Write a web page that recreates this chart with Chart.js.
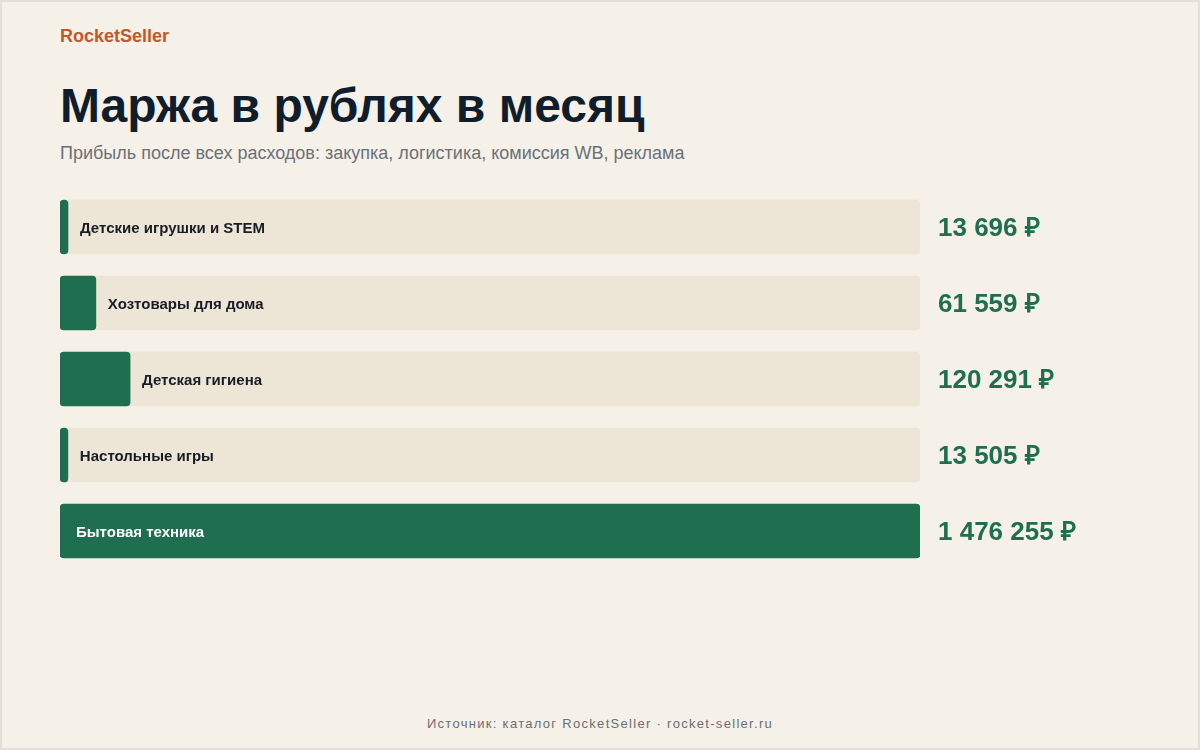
<!DOCTYPE html>
<html lang="ru">
<head>
<meta charset="utf-8">
<script src="https://cdn.jsdelivr.net/npm/chart.js@4/dist/chart.umd.min.js"></script>
<style>
  html, body { margin: 0; padding: 0; background: #f5f0e8; }
  #page {
    position: relative; width: 1200px; height: 750px; box-sizing: border-box;
    border: 2px solid #e4dfd7; background: #f5f0e8; overflow: hidden;
    font-family: "Liberation Sans", Arial, sans-serif;
  }
  .abs { position: absolute; left: 58px; line-height: 1; white-space: nowrap; }
  #brand { top: 25px; font-size: 18px; font-weight: bold; color: #c2582c; }
  #title { top: 80px; font-size: 48px; font-weight: bold; color: #0f1d2c; }
  #subtitle { top: 142px; font-size: 18px; color: #6b7078; }
  #footer { top: 715px; left: 0; width: 1196px; text-align: center; font-size: 13px; letter-spacing: 1.3px; color: #6e6e70; }
  #wrap { position: absolute; left: -2px; top: 187px; width: 1200px; height: 380px; }
</style>
</head>
<body>
<div id="page">
  <div id="brand" class="abs">RocketSeller</div>
  <div id="title" class="abs">Маржа в рублях в месяц</div>
  <div id="subtitle" class="abs">Прибыль после всех расходов: закупка, логистика, комиссия WB, реклама</div>
  <div id="wrap"><canvas id="chart"></canvas></div>
  <div id="footer" class="abs">Источник: каталог RocketSeller · rocket-seller.ru</div>
</div>
<script>
// -- data ------------------------------------------------------------------->
const categories = [
  'Детские игрушки и STEM',
  'Хозтовары для дома',
  'Детская гигиена',
  'Настольные игры',
  'Бытовая техника'
]
const margins = [13696, 61559, 120291, 13505, 1476255]
const maxMargin = Math.max(...margins)
const track = categories.map(() => maxMargin)

const green = '#1f6e4f'

function fmt(v) {
  return String(v).replace(/\B(?=(\d{3})+(?!\d))/g, ' ') + ' ₽'
}

// -- labels plugin ---------------------------------------------------------->
const labelPlugin = {
  id: 'rowLabels',
  afterDatasetsDraw(chart) {
    const { ctx, scales, chartArea } = chart
    const meta = chart.getDatasetMeta(1)
    ctx.save()
    ctx.textBaseline = 'middle'
    meta.data.forEach((bar, i) => {
      const y = bar.y
      const end = scales.x.getPixelForValue(margins[i])
      const start = scales.x.getPixelForValue(0)
      ctx.font = 'bold 15px "Liberation Sans", Arial, sans-serif'
      const w = ctx.measureText(categories[i]).width
      if (end - start > w + 40) {
        ctx.fillStyle = '#ffffff'
        ctx.fillText(categories[i], start + 16, y + 1.5)
      } else {
        ctx.fillStyle = '#171c26'
        ctx.fillText(categories[i], end + 12, y + 1.5)
      }
      ctx.font = 'bold 26px "Liberation Sans", Arial, sans-serif'
      ctx.fillStyle = green
      ctx.fillText(fmt(margins[i]), chartArea.right + 18, y + 1.5)
    })
    ctx.restore()
  }
}

// -- chart ------------------------------------------------------------------>
new Chart(document.getElementById('chart'), {
  type: 'bar',
  data: {
    labels: categories,
    datasets: [
      {
        data: track,
        backgroundColor: '#ede6d6',
        borderRadius: 4,
        borderSkipped: false,
        barThickness: 54,
        grouped: false,
        order: 2
      },
      {
        data: margins,
        backgroundColor: green,
        borderRadius: 4,
        borderSkipped: false,
        barThickness: 54,
        grouped: false,
        order: 1
      }
    ]
  },
  options: {
    indexAxis: 'y',
    responsive: true,
    maintainAspectRatio: false,
    animation: false,
    layout: { padding: { left: 60, right: 280, top: 0, bottom: 0 } },
    scales: {
      x: { display: false, min: 0, max: maxMargin },
      y: { display: false }
    },
    plugins: {
      legend: { display: false },
      tooltip: { enabled: false }
    }
  },
  plugins: [labelPlugin]
})
</script>
</body>
</html>
